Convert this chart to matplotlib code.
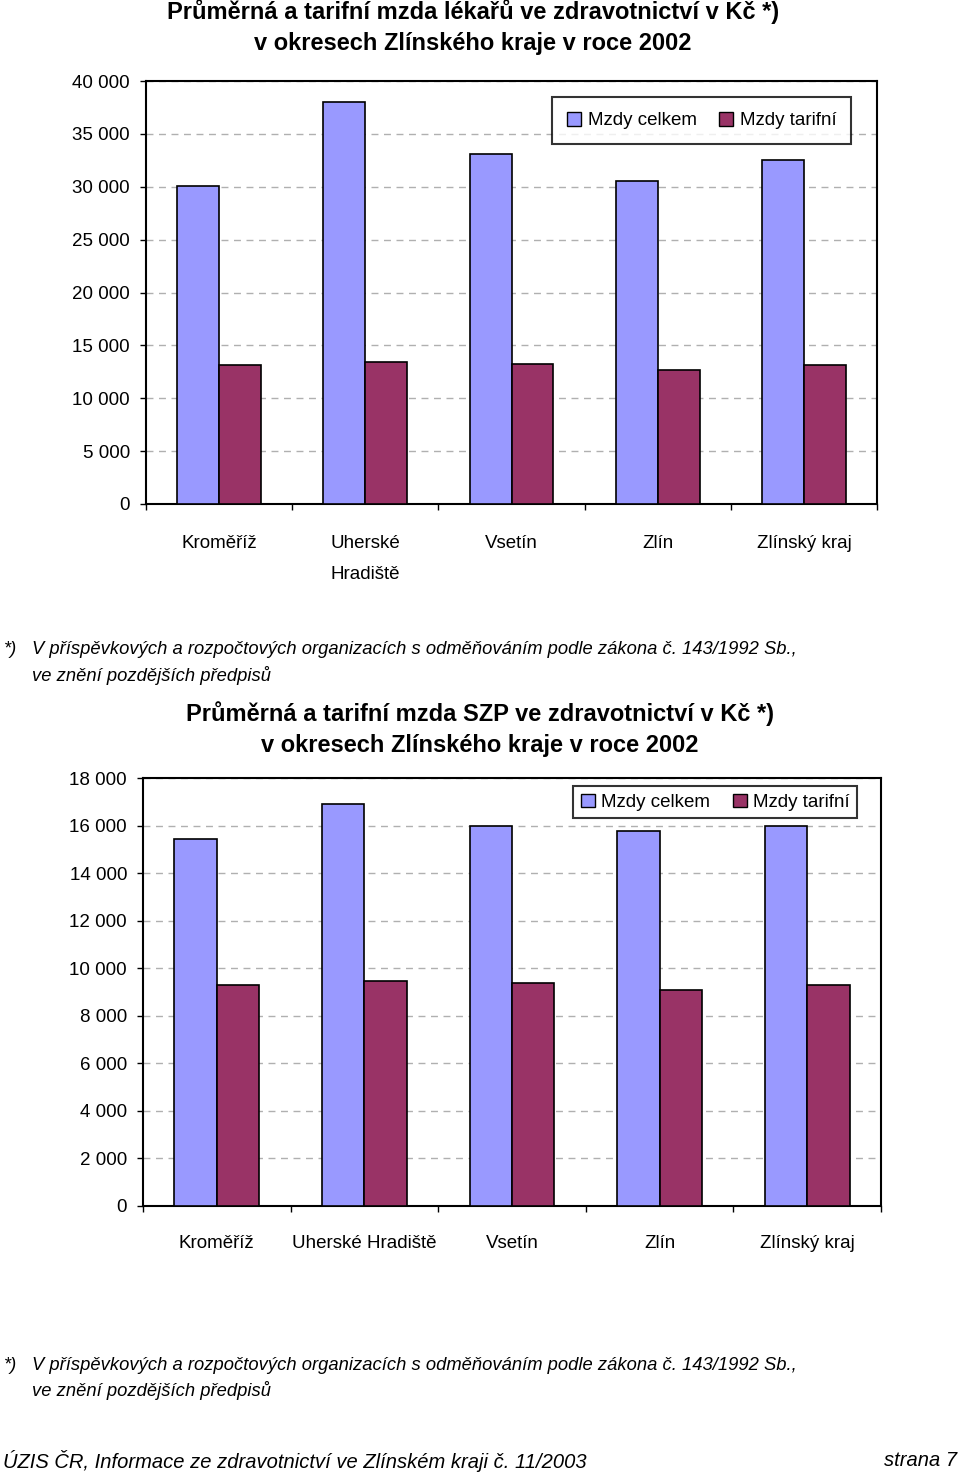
import numpy as np
import matplotlib
matplotlib.use("Agg")
import matplotlib.pyplot as plt
from matplotlib.ticker import FuncFormatter, MultipleLocator
from matplotlib.patches import Patch

W, H = 960, 1474
plt.rcParams['font.family'] = ['Liberation Sans', 'DejaVu Sans']

# --- data ---
categories_top = ["Kroměříž", "Uherské\nHradiště", "Vsetín", "Zlín", "Zlínský kraj"]
categories_bot = ["Kroměříž", "Uherské Hradiště", "Vsetín", "Zlín", "Zlínský kraj"]
series_names = ["Mzdy celkem", "Mzdy tarifní"]

lekari_celkem = [30050, 38000, 33100, 30550, 32570]
lekari_tarif = [13160, 13400, 13260, 12690, 13160]

szp_celkem = [15440, 16900, 16000, 15760, 16000]
szp_tarif = [9280, 9480, 9360, 9100, 9280]

BLUE = '#9999ff'
RED = '#993366'

title_top = "Průměrná a tarifní mzda lékařů ve zdravotnictví v Kč *)\nv okresech Zlínského kraje v roce 2002"
title_bot = "Průměrná a tarifní mzda SZP ve zdravotnictví v Kč *)\nv okresech Zlínského kraje v roce 2002"
note_1 = "V příspěvkových a rozpočtových organizacích s odměňováním podle zákona č. 143/1992 Sb.,"
note_2 = "ve znění pozdějších předpisů"
footer_left = "ÚZIS ČR, Informace ze zdravotnictví ve Zlínském kraji č. 11/2003"
footer_right = "strana 7"

fig = plt.figure(figsize=(W / 100, H / 100), dpi=100)
fig.set_facecolor('white')


def px_axes(l, t, r, b):
    return fig.add_axes([l / W, 1 - b / H, (r - l) / W, (b - t) / H])


def ftext(x, y, s, **kw):
    fig.text(x / W, 1 - y / H, s, **kw)


def thousands(v, pos):
    return f"{int(v):,}".replace(",", " ")


def draw_chart(ax, cats, celkem, tarif, ymax, step, leg_box, leg_pad, label_pad):
    x = np.arange(len(cats))
    bw = 0.287
    ax.bar(x - bw / 2, celkem, bw, color=BLUE, edgecolor='black', linewidth=1.2, zorder=3)
    ax.bar(x + bw / 2, tarif, bw, color=RED, edgecolor='black', linewidth=1.2, zorder=3)
    ax.set_xlim(-0.5, len(cats) - 0.5)
    ax.set_ylim(0, ymax)
    ax.yaxis.set_major_locator(MultipleLocator(step))
    ax.yaxis.set_major_formatter(FuncFormatter(thousands))
    ax.grid(axis='y', linestyle=(0, (5, 4)), color='#b0b0b0', linewidth=1.0, zorder=0)
    ax.set_xticks(np.arange(len(cats) + 1) - 0.5)
    ax.set_xticklabels([])
    ax.set_xticks(x, minor=True)
    ax.set_xticklabels(cats, minor=True, fontsize=13.5, linespacing=2.05)
    ax.tick_params(axis='x', which='minor', length=0, pad=label_pad)
    ax.tick_params(axis='x', which='major', length=4.5, width=1.0, direction='out')
    ax.tick_params(axis='y', length=4.5, width=1.0, direction='out', labelsize=13.5, pad=7)
    for sp in ax.spines.values():
        sp.set_linewidth(1.5)
    handles = [Patch(facecolor=BLUE, edgecolor='black'), Patch(facecolor=RED, edgecolor='black')]
    leg = ax.legend(handles, series_names, ncol=2, loc='upper left',
                    bbox_to_anchor=leg_box, fontsize=13.5, frameon=True, fancybox=False,
                    edgecolor='black', handlelength=0.75, handleheight=0.75,
                    handletextpad=0.35, columnspacing=1.2, borderpad=leg_pad,
                    borderaxespad=0)
    leg.get_frame().set_linewidth(1.5)
    leg.set_zorder(5)


# top chart
ax1 = px_axes(146, 81, 877, 504)
draw_chart(ax1, categories_top, lekari_celkem, lekari_tarif, 40000, 5000,
           ((552 - 146) / (877 - 146), 1 - (97 - 81) / (504 - 81)), 0.8, 22.5)
ftext(473, 27, title_top, ha='center', va='center', fontsize=17, fontweight='bold',
      linespacing=1.4)
ftext(4, 650, "*)", ha='left', va='center', fontsize=13.2, style='italic')
ftext(32, 650, note_1, ha='left', va='center', fontsize=13.2, style='italic')
ftext(32, 675, note_2, ha='left', va='center', fontsize=13.2, style='italic')

# bottom chart
ax2 = px_axes(143, 778, 881, 1206)
draw_chart(ax2, categories_bot, szp_celkem, szp_tarif, 18000, 2000,
           ((573 - 143) / (881 - 143), 1 - (786 - 778) / (1206 - 778)), 0.4, 21)
ftext(480, 729, title_bot, ha='center', va='center', fontsize=17, fontweight='bold',
      linespacing=1.4)
ftext(4, 1365, "*)", ha='left', va='center', fontsize=13.2, style='italic')
ftext(32, 1365, note_1, ha='left', va='center', fontsize=13.2, style='italic')
ftext(32, 1390, note_2, ha='left', va='center', fontsize=13.2, style='italic')

ftext(3, 1461, footer_left, ha='left', va='center', fontsize=14.5, style='italic')
ftext(957, 1461, footer_right, ha='right', va='center', fontsize=14.5, style='italic')

fig.savefig("out.png", dpi=100)
